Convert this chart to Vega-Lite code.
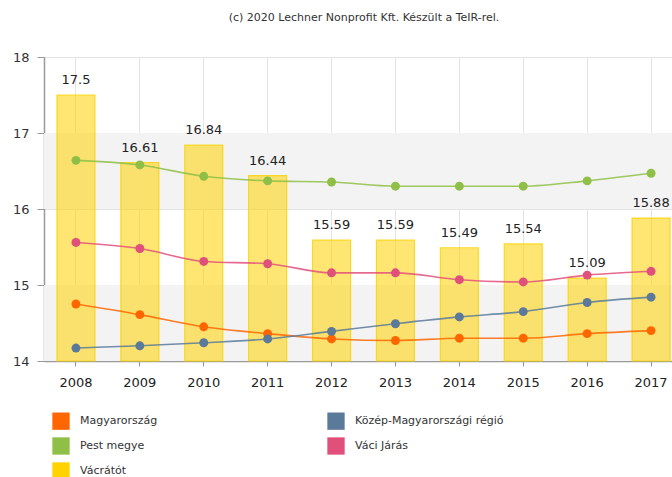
{
  "$schema": "https://vega.github.io/schema/vega-lite/v6.json",
  "autosize": "none",
  "width": 628,
  "height": 304,
  "padding": {"left": 44, "top": 57, "right": 0, "bottom": 116},
  "background": "white",
  "title": {"text": "(c) 2020 Lechner Nonprofit Kft. Készült a TeIR-rel.", "fontSize": 11, "fontWeight": "normal", "color": "#333", "font": "DejaVu Sans", "anchor": "middle", "baseline": "bottom", "offset": 17, "dx": 6},
  "config": {"view": {"stroke": null}, "font": "DejaVu Sans"},
  "datasets": {
    "bands": [{"lo": 14, "hi": 15}, {"lo": 16, "hi": 17}],
    "main": [
      {"year": "2008", "series": "Vácrátót", "value": 17.5},
      {"year": "2009", "series": "Vácrátót", "value": 16.61},
      {"year": "2010", "series": "Vácrátót", "value": 16.84},
      {"year": "2011", "series": "Vácrátót", "value": 16.44},
      {"year": "2012", "series": "Vácrátót", "value": 15.59},
      {"year": "2013", "series": "Vácrátót", "value": 15.59},
      {"year": "2014", "series": "Vácrátót", "value": 15.49},
      {"year": "2015", "series": "Vácrátót", "value": 15.54},
      {"year": "2016", "series": "Vácrátót", "value": 15.09},
      {"year": "2017", "series": "Vácrátót", "value": 15.88},
      {"year": "2008", "series": "Pest megye", "value": 16.64},
      {"year": "2009", "series": "Pest megye", "value": 16.58},
      {"year": "2010", "series": "Pest megye", "value": 16.43},
      {"year": "2011", "series": "Pest megye", "value": 16.37},
      {"year": "2012", "series": "Pest megye", "value": 16.355},
      {"year": "2013", "series": "Pest megye", "value": 16.3},
      {"year": "2014", "series": "Pest megye", "value": 16.3},
      {"year": "2015", "series": "Pest megye", "value": 16.3},
      {"year": "2016", "series": "Pest megye", "value": 16.37},
      {"year": "2017", "series": "Pest megye", "value": 16.47},
      {"year": "2008", "series": "Váci Járás", "value": 15.56},
      {"year": "2009", "series": "Váci Járás", "value": 15.48},
      {"year": "2010", "series": "Váci Járás", "value": 15.31},
      {"year": "2011", "series": "Váci Járás", "value": 15.28},
      {"year": "2012", "series": "Váci Járás", "value": 15.16},
      {"year": "2013", "series": "Váci Járás", "value": 15.16},
      {"year": "2014", "series": "Váci Járás", "value": 15.07},
      {"year": "2015", "series": "Váci Járás", "value": 15.04},
      {"year": "2016", "series": "Váci Járás", "value": 15.13},
      {"year": "2017", "series": "Váci Járás", "value": 15.18},
      {"year": "2008", "series": "Magyarország", "value": 14.75},
      {"year": "2009", "series": "Magyarország", "value": 14.61},
      {"year": "2010", "series": "Magyarország", "value": 14.45},
      {"year": "2011", "series": "Magyarország", "value": 14.36},
      {"year": "2012", "series": "Magyarország", "value": 14.29},
      {"year": "2013", "series": "Magyarország", "value": 14.27},
      {"year": "2014", "series": "Magyarország", "value": 14.3},
      {"year": "2015", "series": "Magyarország", "value": 14.3},
      {"year": "2016", "series": "Magyarország", "value": 14.36},
      {"year": "2017", "series": "Magyarország", "value": 14.4},
      {"year": "2008", "series": "Közép-Magyarországi régió", "value": 14.17},
      {"year": "2009", "series": "Közép-Magyarországi régió", "value": 14.2},
      {"year": "2010", "series": "Közép-Magyarországi régió", "value": 14.24},
      {"year": "2011", "series": "Közép-Magyarországi régió", "value": 14.29},
      {"year": "2012", "series": "Közép-Magyarországi régió", "value": 14.39},
      {"year": "2013", "series": "Közép-Magyarországi régió", "value": 14.49},
      {"year": "2014", "series": "Közép-Magyarországi régió", "value": 14.58},
      {"year": "2015", "series": "Közép-Magyarországi régió", "value": 14.65},
      {"year": "2016", "series": "Közép-Magyarországi régió", "value": 14.77},
      {"year": "2017", "series": "Közép-Magyarországi régió", "value": 14.84}
    ]
  },
  "layer": [
    {
      "data": {"name": "bands"},
      "mark": {"type": "rect", "color": "#f3f3f3"},
      "encoding": {
        "y": {"field": "lo", "type": "quantitative", "scale": {"domain": [14, 18]}},
        "y2": {"field": "hi"}
      }
    },
    {
      "data": {"name": "main"},
      "layer": [
        {
          "transform": [{"filter": "datum.series === 'Vácrátót'"}],
          "mark": {"type": "bar", "size": 38, "fillOpacity": 0.55, "stroke": "#f7d200", "strokeWidth": 1.2, "strokeOpacity": 0.8},
          "encoding": {
            "x": {"field": "year", "type": "nominal", "scale": {"range": [0, 639], "paddingInner": 0.4, "paddingOuter": 0.2},
              "axis": {"title": null, "labelAngle": 0, "labelFontSize": 13, "labelColor": "#222", "labelPadding": 10, "tickSize": 5, "tickColor": "#999", "domainColor": "#999", "domainWidth": 1.5, "grid": true, "gridColor": "#e4e4e4", "bandPosition": 0.5, "zindex": 0}},
            "y": {"field": "value", "type": "quantitative", "scale": {"domain": [14, 18], "zero": false, "nice": false},
              "axis": {"title": null, "values": [14, 15, 16, 17, 18], "format": "d", "labelFontSize": 13, "labelColor": "#333", "labelPadding": 8, "tickSize": 7, "tickColor": "#999", "domainColor": "#999", "domainWidth": 1.5, "grid": true, "gridColor": "#e4e4e4", "zindex": 0}},
            "y2": {"datum": 14},
            "color": {"field": "series", "type": "nominal",
              "scale": {"domain": ["Magyarország", "Közép-Magyarországi régió", "Pest megye", "Váci Járás", "Vácrátót"], "range": ["#ff6600", "#5b7a9a", "#8fbf47", "#e0507a", "#ffd200"]},
              "legend": {"title": null, "orient": "none", "legendX": 8, "legendY": 355, "columns": 2, "direction": "horizontal", "symbolType": "square", "symbolSize": 300, "symbolOpacity": 1, "symbolStrokeWidth": 0, "labelFontSize": 11, "labelColor": "#333", "rowPadding": 7, "columnPadding": 169, "labelOffset": 10, "gridAlign": "each"}}
          }
        },
        {
          "transform": [{"filter": "datum.series === 'Vácrátót'"}],
          "mark": {"type": "text", "baseline": "bottom", "dy": -8, "fontSize": 13, "color": "#222"},
          "encoding": {
            "x": {"field": "year", "type": "nominal"},
            "y": {"field": "value", "type": "quantitative"},
            "text": {"field": "value", "type": "quantitative"}
          }
        },
        {
          "transform": [{"filter": "datum.series !== 'Vácrátót'"}],
          "mark": {"type": "line", "interpolate": "monotone", "strokeWidth": 1.6, "opacity": 0.85, "point": {"size": 80, "filled": true, "opacity": 1}},
          "encoding": {
            "x": {"field": "year", "type": "nominal"},
            "y": {"field": "value", "type": "quantitative"},
            "color": {"field": "series", "type": "nominal"}
          }
        }
      ]
    }
  ]
}
